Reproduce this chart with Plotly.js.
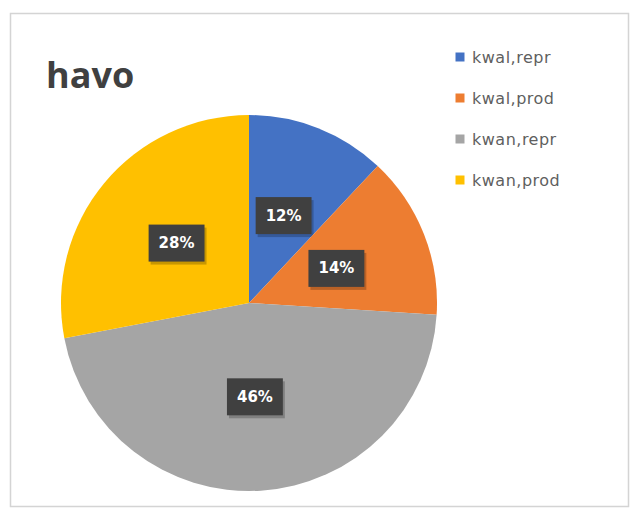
<!DOCTYPE html>
<html>
<head>
<meta charset="utf-8">
<script src="https://cdn.plot.ly/plotly-3.0.1.min.js"></script>
<style>
html,body{margin:0;padding:0;background:#fff;}
#chart{width:631px;height:512px;}
</style>
</head>
<body>
<div id="chart"></div>
<script>
const categories = ["kwal,repr", "kwal,prod", "kwan,repr", "kwan,prod"];
const values = [12, 14, 46, 28];
const colors = ["#4472C4", "#ED7D31", "#A5A5A5", "#FFC000"];
const titleText = "havo";

const W = 631, H = 512;
const cx = 249, cy = 303, r = 188;

const trace = {
  type: "pie",
  labels: categories,
  values: values,
  sort: false,
  direction: "clockwise",
  rotation: 0,
  marker: {colors: colors, line: {width: 0}},
  textinfo: "percent",
  texttemplate: "%{percent:.0%}",
  textposition: "inside",
  insidetextorientation: "horizontal",
  insidetextfont: {family: "DejaVu Sans, sans-serif", size: 15, color: "#ffffff", weight: 700},
  hoverinfo: "none",
  domain: {x: [(cx - r) / W, (cx + r) / W], y: [1 - (cy + r) / H, 1 - (cy - r) / H]}
};

const layout = {
  width: W, height: H,
  margin: {l: 0, r: 0, t: 0, b: 0},
  paper_bgcolor: "#ffffff",
  showlegend: true,
  legend: {
    x: 440 / W, y: 1 - 40 / H, xanchor: "left", yanchor: "top",
    font: {family: "DejaVu Sans, sans-serif", size: 16, color: "#5f5f5f"},
    bgcolor: "rgba(0,0,0,0)", traceorder: "normal"
  },
  annotations: [{
    text: "<b>" + titleText + "</b>", xref: "paper", yref: "paper",
    x: 44 / W, y: 1 - 74 / H, xanchor: "left", yanchor: "middle", showarrow: false,
    font: {family: "Open Sans, DejaVu Sans, sans-serif", size: 36, color: "#404040"}
  }],
  shapes: [{
    type: "rect", xref: "paper", yref: "paper",
    x0: 10.5 / W, x1: 628.5 / W, y0: 1 - 506.5 / H, y1: 1 - 13.5 / H,
    line: {color: "#d4d4d4", width: 1.5}, fillcolor: "rgba(0,0,0,0)", layer: "below"
  }]
};

Plotly.newPlot("chart", [trace], layout, {staticPlot: true}).then(function (gd) {
  const svgNS = "http://www.w3.org/2000/svg";
  const cd = gd.calcdata && gd.calcdata[0];
  const cd0 = cd ? cd[0] : null;
  const pcx = cd0 && isFinite(cd0.cx) ? cd0.cx : cx;
  const pcy = cd0 && isFinite(cd0.cy) ? cd0.cy : cy;
  // labels at half radius on slice bisector, with dark boxes
  gd.querySelectorAll(".slice").forEach(function (sl, i) {
    const t = sl.querySelector("text.slicetext");
    if (!t) return;
    const pt = cd ? cd[i] : null;
    const bb = t.getBBox();
    let tr = t.getAttribute("transform") || "";
    if (pt && pt.pxmid) {
      const tx = pcx + 0.5 * pt.pxmid[0];
      const ty = pcy + 0.5 * pt.pxmid[1];
      tr = "translate(" + (tx - (bb.x + bb.width / 2)) + "," + (ty - (bb.y + bb.height / 2)) + ")";
      t.setAttribute("transform", tr);
    }
    const padX = 10, padY = 9.5;
    const sh = document.createElementNS(svgNS, "rect");
    sh.setAttribute("x", bb.x - padX + 2);
    sh.setAttribute("y", bb.y - padY + 3);
    sh.setAttribute("width", bb.width + 2 * padX);
    sh.setAttribute("height", bb.height + 2 * padY);
    sh.setAttribute("fill", "rgba(0,0,0,0.22)");
    sh.setAttribute("transform", tr);
    const rc = document.createElementNS(svgNS, "rect");
    rc.setAttribute("x", bb.x - padX);
    rc.setAttribute("y", bb.y - padY);
    rc.setAttribute("width", bb.width + 2 * padX);
    rc.setAttribute("height", bb.height + 2 * padY);
    rc.setAttribute("fill", "#404040");
    rc.setAttribute("transform", tr);
    t.parentNode.insertBefore(sh, t);
    t.parentNode.insertBefore(rc, t);
  });
  // legend: remove clipping, small square markers, wider spacing
  gd.querySelectorAll(".legend [clip-path]").forEach(function (e) { e.removeAttribute("clip-path"); });
  const items = gd.querySelectorAll(".legend .traces");
  items.forEach(function (it, i) {
    it.setAttribute("transform", "translate(0,0)");
    const sym = it.querySelector(".legendpoints path");
    if (sym) sym.setAttribute("d", "M4.5,4.5H-4.5V-4.5H4.5Z");
    const rr = sym.getBoundingClientRect();
    const dx = 460 - (rr.left + rr.width / 2);
    const dy = (57 + i * 41) - (rr.top + rr.height / 2);
    it.setAttribute("transform", "translate(" + dx + "," + dy + ")");
    const txt = it.querySelector("text.legendtext");
    if (txt) {
      txt.style.letterSpacing = "0.5px";
      const trr = txt.getBoundingClientRect();
      const x0 = parseFloat(txt.getAttribute("x") || "0");
      txt.setAttribute("x", x0 + (472 - trr.left));
    }
  });
});
</script>
</body>
</html>
